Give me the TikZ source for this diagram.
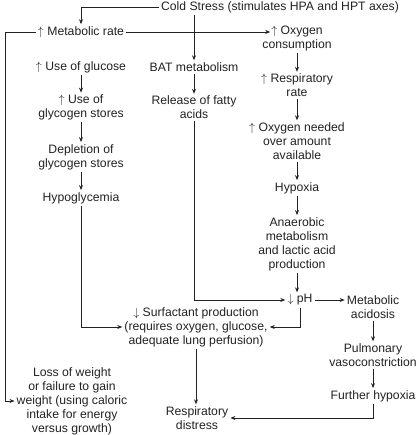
\documentclass[tikz,border=0pt]{standalone}
\usepackage{fontspec}
\setmainfont{Liberation Sans}
\usetikzlibrary{arrows.meta,calc}
\definecolor{ink}{HTML}{222222}

\begin{document}
\begin{tikzpicture}[x=1pt,y=-1pt,>={Stealth[length=5pt,width=4pt]},
box/.style={align=center,inner sep=2pt,text=ink,font=\fontsize{12.2}{14}\selectfont},
link/.style={->,draw=ink,line width=0.8pt}]
\useasboundingbox (0,0) rectangle (417,435);
\node[box] (cold) at (280,7) {Cold Stress (stimulates HPA and HPT axes)};
\node[box] (metab) at (81,32) {$\uparrow$ Metabolic rate};
\node[box] (oxy) at (297,38.5) {$\uparrow$ Oxygen\\consumption};
\node[box] (glucose) at (81,67) {$\uparrow$ Use of glucose};
\node[box] (bat) at (194,67) {BAT metabolism};
\node[box] (glycogen) at (81,107.5) {$\uparrow$ Use of\\glycogen stores};
\node[box] (fatty) at (194,107.5) {Release of fatty\\acids};
\node[box] (resp) at (297,85.5) {$\uparrow$ Respiratory\\rate};
\node[box] (needed) at (297,141) {$\uparrow$ Oxygen needed\\over amount\\available};
\node[box] (deplete) at (81,157) {Depletion of\\glycogen stores};
\node[box] (hypogly) at (81,198) {Hypoglycemia};
\node[box] (hypoxia) at (297,188) {Hypoxia};
\node[box] (anaer) at (297,244) {Anaerobic\\metabolism\\and lactic acid\\production};
\node[box] (ph) at (300,300) {$\downarrow$ pH};
\node[box] (acid) at (373,307) {Metabolic\\acidosis};
\node[box] (surf) at (196,327) {$\downarrow$ Surfactant production\\(requires oxygen, glucose,\\adequate lung perfusion)};
\node[box] (pulm) at (373,355) {Pulmonary\\vasoconstriction};
\node[box] (further) at (373,396) {Further hypoxia};
\node[box] (loss) at (72,401) {Loss of weight\\or failure to gain\\weight (using caloric\\intake for energy\\versus growth)};
\node[box] (distress) at (197,418) {Respiratory\\distress};
% cold stress branches
\draw[link] (cold.west) -| (metab.north);
\draw[link] (bat.north |- cold.south) -- (bat.north);
\draw[link] (metab.east) -- ([xshift=10pt]oxy.west |- metab.east);
\draw[link] (metab.west) -- ++(-30,0) |- (loss.west);
% glucose column
\draw[link] (glucose) -- (glycogen);
\draw[link] (glycogen) -- (deplete);
\draw[link] (deplete) -- (hypogly);
\draw[link] (hypogly.south) |- (surf.west);
% BAT column
\draw[link] (bat) -- (fatty);
\draw[link] (fatty.south) |- (ph.west);
% oxygen column
\draw[link] (oxy) -- (resp);
\draw[link] (resp) -- (needed);
\draw[link] (needed) -- (hypoxia);
\draw[link] (hypoxia) -- (anaer);
\draw[link] (anaer.south) -- (anaer.south |- ph.north);
\draw[link] (ph.south) |- (surf.east);
\draw[link] (ph.east) -- (ph.east -| acid.west);
\draw[link] (acid) -- (pulm);
\draw[link] (pulm) -- (further);
\draw[link] (further.south) |- (distress.east);
\draw[link] (surf.south) -- (surf.south |- distress.north);
\end{tikzpicture}
\end{document}
